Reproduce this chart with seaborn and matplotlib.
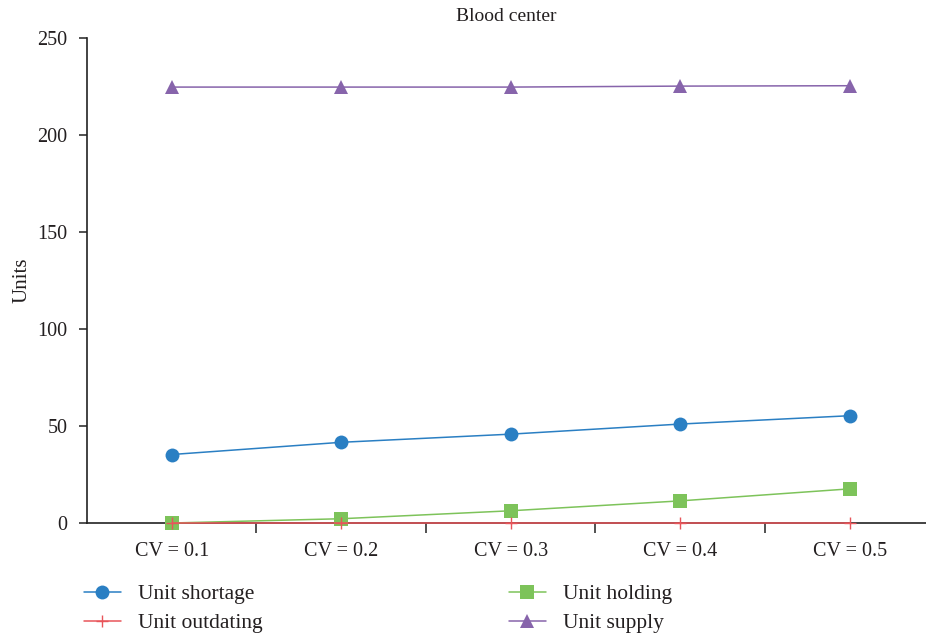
import numpy as np
import pandas as pd
import matplotlib
matplotlib.use("Agg")
import matplotlib.pyplot as plt
import seaborn as sns
from matplotlib.ticker import FixedLocator

# data
categories = ["CV = 0.1", "CV = 0.2", "CV = 0.3", "CV = 0.4", "CV = 0.5"]
shortage = [35.3, 41.6, 45.8, 51.0, 55.3]
outdating = [0.0, 0.0, 0.0, 0.0, 0.0]
holding = [0.0, 2.2, 6.3, 11.4, 17.6]
supply = [224.7, 224.7, 224.7, 225.2, 225.4]

sns.set_style("white")
plt.rcParams['font.family'] = ['Liberation Serif', 'DejaVu Serif']

fig = plt.figure(figsize=(9.26, 6.35), dpi=100)
ax = fig.add_axes([87 / 926, (635 - 523) / 635, (926 - 87) / 926, 485 / 635])

df = pd.DataFrame({"x": np.arange(len(categories)),
                   "shortage": shortage, "outdating": outdating,
                   "holding": holding, "supply": supply})

# series styles: (column, label, colour, marker, size)
styles = [
    ("supply", "Unit supply", "#8764ab", "^", 9.5),
    ("holding", "Unit holding", "#7dc35a", "s", 9.5),
    ("shortage", "Unit shortage", "#2a7fc3", "o", 10),
    ("outdating", "Unit outdating", "#e8555a", "+", 9),
]
lines = {}
for col, lab, c, m, s in styles:
    sns.lineplot(data=df, x="x", y=col, ax=ax, color=c, marker=m,
                 markersize=s, markeredgewidth=1 if m == "+" else 0,
                 markeredgecolor=c, linewidth=1.1, label=lab, legend=False,
                 clip_on=False, zorder=3)
    lines[col] = ax.lines[-1]

ax.set_xlim(-0.5, 4.45)
ax.set_ylim(0, 250)
ax.set_yticks([0, 50, 100, 150, 200, 250])
ax.set_xticks(np.arange(len(categories)))
ax.set_xticklabels(categories)
ax.xaxis.set_minor_locator(FixedLocator([0.5, 1.5, 2.5, 3.5]))
ax.tick_params(axis="x", which="major", length=0, pad=14, labelsize=14.5,
               colors="#231f20")
ax.tick_params(axis="x", which="minor", length=7, width=1.2, direction="out",
               bottom=True, color="#333333")
ax.tick_params(axis="y", length=6, width=1.2, direction="out", left=True,
               labelsize=14.5, pad=8, colors="#231f20")
ax.tick_params(axis="y", colors="#333333", labelcolor="#231f20")
for side in ["top", "right"]:
    ax.spines[side].set_visible(False)
for side in ["left", "bottom"]:
    ax.spines[side].set_color("#222222")
    ax.spines[side].set_linewidth(1.2)
ax.set_xlabel("")
ax.set_ylabel("Units", fontsize=15, color="#231f20", labelpad=4)
ax.set_title("Blood center", fontsize=14, color="#231f20", pad=12)

leg_kw = dict(frameon=False, fontsize=15.5, handlelength=1.7,
              handletextpad=0.8, labelspacing=0.42, borderaxespad=0,
              borderpad=0, labelcolor="#231f20")
fig.legend([lines["shortage"], lines["outdating"]],
           ["Unit shortage", "Unit outdating"], loc="upper left",
           bbox_to_anchor=(84 / 926, 1 - 584 / 635), **leg_kw)
fig.legend([lines["holding"], lines["supply"]],
           ["Unit holding", "Unit supply"], loc="upper left",
           bbox_to_anchor=(509 / 926, 1 - 584 / 635), **leg_kw)

fig.savefig("out.png", dpi=100)
